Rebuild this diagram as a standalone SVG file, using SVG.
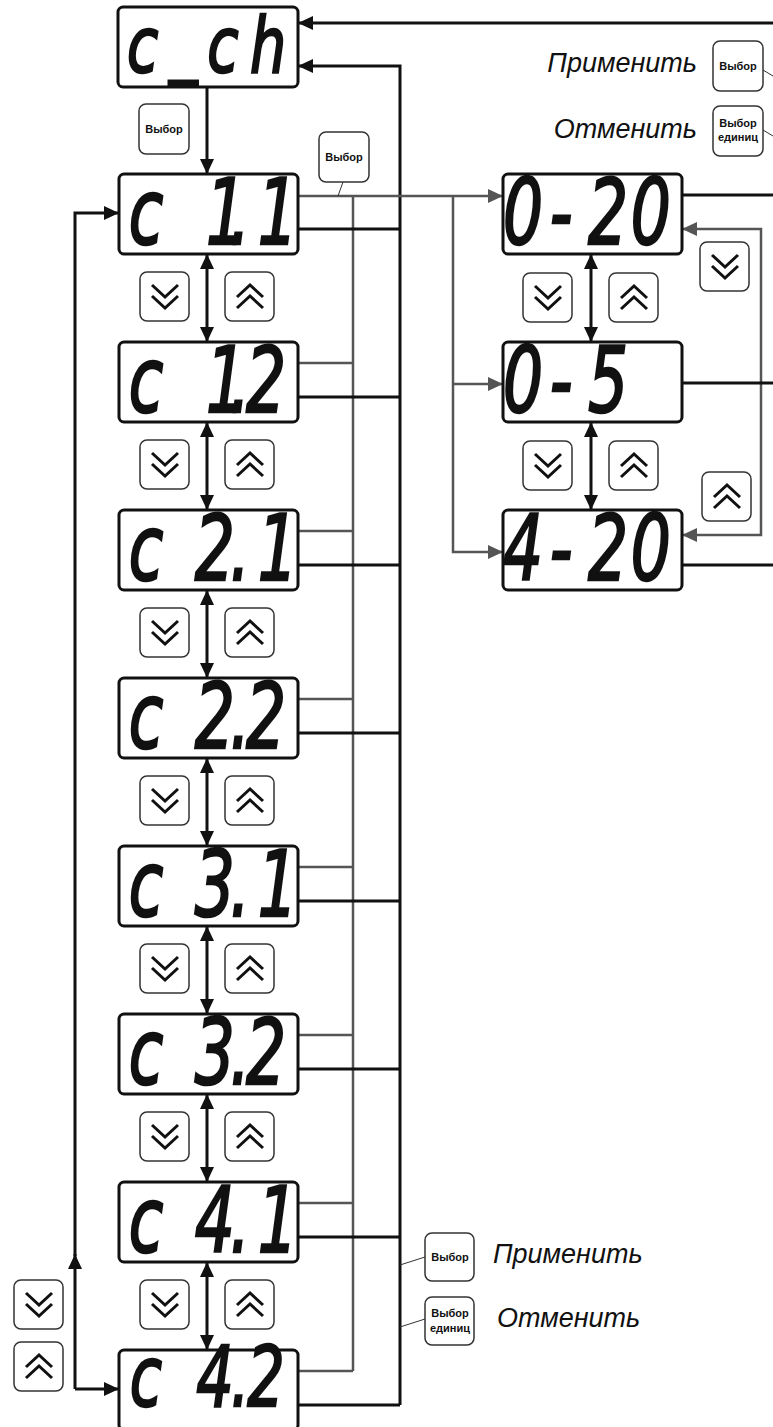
<svg xmlns="http://www.w3.org/2000/svg" width="773" height="1427" viewBox="0 0 773 1427">
<style>
.box{fill:#fff;stroke:#111;stroke-width:3}
.seg{font-family:"DejaVu Sans","Liberation Sans",sans-serif;font-style:italic;font-weight:normal;font-size:90px;fill:#111;stroke:#111;stroke-width:2.5;text-anchor:middle}
.btn{fill:#fff;stroke:#333;stroke-width:1.5}
.btxt{font-family:"Liberation Sans",Arial,sans-serif;font-weight:bold;font-size:11px;text-anchor:middle;fill:#111}
.lbl{font-family:"Liberation Sans",Arial,sans-serif;font-style:italic;font-size:27px;fill:#111}
.blk{stroke:#111;stroke-width:3;fill:none}
.gry{stroke:#555;stroke-width:2.5;fill:none}
.thin{stroke:#333;stroke-width:1;fill:none}
.chev{stroke:#111;stroke-width:3;fill:none}
</style>
<defs>
<marker id="ab" markerUnits="userSpaceOnUse" markerWidth="16" markerHeight="16" refX="15" refY="7" orient="auto-start-reverse"><path d="M0,0 L15,7 L0,14 z" fill="#111"/></marker>
<marker id="ag" markerUnits="userSpaceOnUse" markerWidth="16" markerHeight="16" refX="15" refY="7" orient="auto-start-reverse"><path d="M0,0 L15,7 L0,14 z" fill="#555"/></marker>
<g id="bDown"><rect class="btn" x="0" y="0" width="49" height="49" rx="7"/><polyline class="chev" points="12,13 25,25 38,13"/><polyline class="chev" points="12,24 25,36 38,24"/></g>
<g id="bUp"><rect class="btn" x="0" y="0" width="49" height="49" rx="7"/><polyline class="chev" points="12,36 25,24 38,36"/><polyline class="chev" points="12,25 25,13 38,25"/></g>
</defs>

<g id="connectors">
<path class="blk" d="M773,23 H298" marker-end="url(#ab)"/>
<path class="blk" d="M400,1405 V66 H298" marker-end="url(#ab)"/>
<path class="blk" d="M207,87 V174" marker-end="url(#ab)"/>
<path class="gry" d="M298,196 H503" marker-end="url(#ag)"/>
<path class="gry" d="M353,196 V1371"/>
<path class="gry" d="M453,196 V552 H503" marker-end="url(#ag)"/>
<path class="gry" d="M453,384 H503" marker-end="url(#ag)"/>
<path class="gry" d="M682,229 H761 V535 H682" marker-start="url(#ag)" marker-end="url(#ag)"/>
<path class="blk" d="M682,195 H773"/>
<path class="blk" d="M682,383 H773"/>
<path class="blk" d="M682,565 H773"/>
<path class="blk" d="M591,254 V342" marker-start="url(#ab)" marker-end="url(#ab)"/>
<path class="blk" d="M591,422 V510" marker-start="url(#ab)" marker-end="url(#ab)"/>
<path class="blk" d="M75,1389 V1254" marker-end="url(#ab)"/>
<path class="blk" d="M75,1256 V213 H119" marker-end="url(#ab)"/>
<path class="blk" d="M75,1389 H119" marker-end="url(#ab)"/>
<g id="c-outputs">
<path class="gry" d="M298,363 H353 M298,531 H353 M298,699 H353 M298,867 H353 M298,1035 H353 M298,1203 H353 M298,1371 H353"/>
<path class="blk" d="M298,229 H400 M298,397 H400 M298,565 H400 M298,733 H400 M298,901 H400 M298,1069 H400 M298,1237 H400 M298,1405 H400"/>
</g>
<g id="c-updown">
<path class="blk" d="M207,254 V342" marker-start="url(#ab)" marker-end="url(#ab)"/>
<path class="blk" d="M207,422 V510" marker-start="url(#ab)" marker-end="url(#ab)"/>
<path class="blk" d="M207,590 V678" marker-start="url(#ab)" marker-end="url(#ab)"/>
<path class="blk" d="M207,758 V846" marker-start="url(#ab)" marker-end="url(#ab)"/>
<path class="blk" d="M207,926 V1014" marker-start="url(#ab)" marker-end="url(#ab)"/>
<path class="blk" d="M207,1094 V1182" marker-start="url(#ab)" marker-end="url(#ab)"/>
<path class="blk" d="M207,1262 V1350" marker-start="url(#ab)" marker-end="url(#ab)"/>
</g>
<path class="thin" d="M763,70 L773,76"/>
<path class="thin" d="M763,130 L773,136"/>
<path class="thin" d="M343,182 L338,196"/>
<path class="thin" d="M400,1265 L425,1257"/>
<path class="thin" d="M400,1327 L425,1319"/>
</g>

<g id="node-c_ch"><rect class="box" x="118" y="7" width="180" height="80" rx="5"/>
<g transform="translate(118,72) scale(0.75,1)"><text class="seg" style="font-size:76px" x="33 87 140 200" y="0 -4 0 0">c_ch</text></g></g>

<g id="node-c11"><rect class="box" x="119" y="174" width="179" height="80" rx="5"/>
<g transform="translate(119,244) scale(0.7,1)"><text class="seg" x="38.6 80 153 173 227">c 1.1</text></g></g>
<g id="node-c12"><rect class="box" x="119" y="342" width="179" height="80" rx="5"/>
<g transform="translate(119,412) scale(0.7,1)"><text class="seg" x="38.6 80 153 173 210">c 1.2</text></g></g>
<g id="node-c21"><rect class="box" x="119" y="510" width="179" height="80" rx="5"/>
<g transform="translate(119,580) scale(0.7,1)"><text class="seg" x="38.6 80 137 173 227">c 2.1</text></g></g>
<g id="node-c22"><rect class="box" x="119" y="678" width="179" height="80" rx="5"/>
<g transform="translate(119,748) scale(0.7,1)"><text class="seg" x="38.6 80 137 173 210">c 2.2</text></g></g>
<g id="node-c31"><rect class="box" x="119" y="846" width="179" height="80" rx="5"/>
<g transform="translate(119,916) scale(0.7,1)"><text class="seg" x="38.6 80 137 173 227">c 3.1</text></g></g>
<g id="node-c32"><rect class="box" x="119" y="1014" width="179" height="80" rx="5"/>
<g transform="translate(119,1084) scale(0.7,1)"><text class="seg" x="38.6 80 137 173 210">c 3.2</text></g></g>
<g id="node-c41"><rect class="box" x="119" y="1182" width="179" height="80" rx="5"/>
<g transform="translate(119,1252) scale(0.7,1)"><text class="seg" x="38.6 80 137 173 227">c 4.1</text></g></g>
<g id="node-c42"><rect class="box" x="119" y="1350" width="179" height="80" rx="5"/>
<g transform="translate(119,1406) scale(0.7,1)"><text class="seg" style="font-size:84px" x="38.6 80 137 173 210">c 4.2</text></g></g>

<g id="node-0-20"><rect class="box" x="503" y="174" width="179" height="80" rx="5"/>
<g transform="translate(503,244) scale(0.7,1)"><text class="seg" x="28.6 82.9 150 211">0-20</text></g></g>
<g id="node-0-5"><rect class="box" x="503" y="342" width="179" height="80" rx="5"/>
<g transform="translate(503,412) scale(0.7,1)"><text class="seg" x="28.6 82.9 150">0-5</text></g></g>
<g id="node-4-20"><rect class="box" x="503" y="510" width="179" height="80" rx="5"/>
<g transform="translate(503,580) scale(0.7,1)"><text class="seg" x="28.6 82.9 150 211">4-20</text></g></g>

<g id="buttons">
<g id="btn-select-1"><rect class="btn" x="139" y="104" width="50" height="50" rx="7"/><text class="btxt" x="164" y="133">Выбор</text></g>
<g id="btn-select-2"><rect class="btn" x="319" y="132" width="50" height="50" rx="7"/><text class="btxt" x="344" y="161">Выбор</text></g>
<g id="btn-select-3"><rect class="btn" x="713" y="41" width="50" height="50" rx="7"/><text class="btxt" x="738" y="70">Выбор</text></g>
<g id="btn-units-1"><rect class="btn" x="713" y="106" width="50" height="50" rx="7"/><text class="btxt" x="738" y="127">Выбор</text><text class="btxt" x="738" y="141">единиц</text></g>
<g id="btn-select-4"><rect class="btn" x="425" y="1233" width="49" height="48" rx="7"/><text class="btxt" x="450" y="1261">Выбор</text></g>
<g id="btn-units-2"><rect class="btn" x="425" y="1297" width="49" height="48" rx="7"/><text class="btxt" x="450" y="1317">Выбор</text><text class="btxt" x="450" y="1332">единиц</text></g>
<use href="#bDown" x="140" y="272"/><use href="#bUp" x="225" y="272"/>
<use href="#bDown" x="140" y="440"/><use href="#bUp" x="225" y="440"/>
<use href="#bDown" x="140" y="608"/><use href="#bUp" x="225" y="608"/>
<use href="#bDown" x="140" y="776"/><use href="#bUp" x="225" y="776"/>
<use href="#bDown" x="140" y="944"/><use href="#bUp" x="225" y="944"/>
<use href="#bDown" x="140" y="1112"/><use href="#bUp" x="225" y="1112"/>
<use href="#bDown" x="140" y="1280"/><use href="#bUp" x="225" y="1280"/>
<use href="#bDown" x="14" y="1280"/><use href="#bUp" x="14" y="1342"/>
<use href="#bDown" x="523" y="273"/><use href="#bUp" x="609" y="273"/>
<use href="#bDown" x="523" y="441"/><use href="#bUp" x="609" y="441"/>
<use href="#bDown" x="700" y="242"/><use href="#bUp" x="702" y="472"/>
</g>

<g id="labels">
<text class="lbl" x="697" y="72" text-anchor="end">Применить</text>
<text class="lbl" x="697" y="138" text-anchor="end">Отменить</text>
<text class="lbl" x="493" y="1263">Применить</text>
<text class="lbl" x="497" y="1327">Отменить</text>
</g>
</svg>
